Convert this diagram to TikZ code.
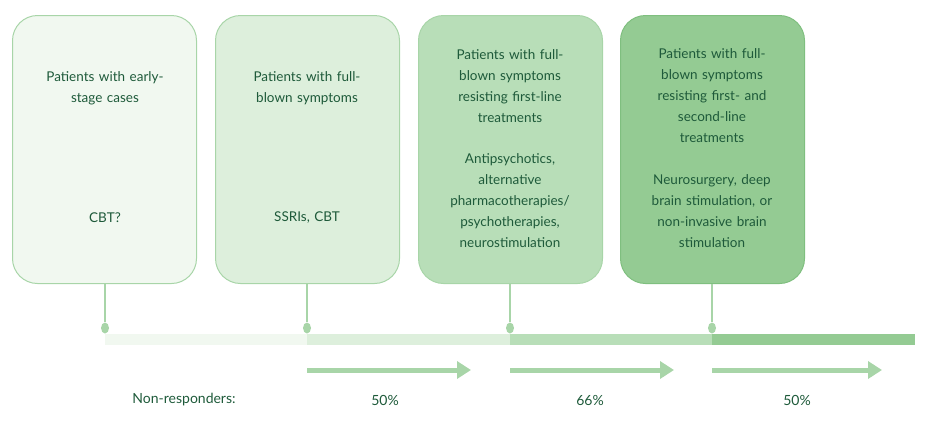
\documentclass[tikz,border=0pt]{standalone}
\usepackage{fontspec}
\setmainfont{Lato}
\usetikzlibrary{shapes.geometric,arrows.meta}
\definecolor{txt}{HTML}{1E5A3A}
\definecolor{fA}{HTML}{F1F8F0}
\definecolor{fB}{HTML}{DDEFDC}
\definecolor{fC}{HTML}{B8DEB8}
\definecolor{fD}{HTML}{94CB93}
\definecolor{ln}{HTML}{A8D5A8}
\definecolor{lnD}{HTML}{7FBF7F}
\begin{document}
\begin{tikzpicture}[x=1pt,y=-1pt,
  card/.style={draw=ln,line width=1pt,rounded corners=25pt,minimum width=184pt,minimum height=268pt,anchor=north west},
  tx/.style={text=txt,font=\fontsize{13.5}{21}\selectfont,align=center,text width=160pt},
  stem/.style={draw=ln,line width=1.2pt},
  dot/.style={ellipse,fill=ln,inner sep=0pt,minimum width=8pt,minimum height=11pt},
  arr/.style={draw=ln,line width=5pt,-{Triangle[length=14pt,width=17pt]}}]
\useasboundingbox (0,0) rectangle (932,424);
\node[card,fill=fA] (b1) at (12,15) {};
\node[card,fill=fB] (b2) at (215,15) {};
\node[card,fill=fC] (b3) at (418,15) {};
\node[card,fill=fD,draw=lnD] (b4) at (620,15) {};
\node[tx] (t1) at (105,88) {Patients with early-\\stage cases};
\node[tx] (r1) at (105,218) {CBT?};
\node[tx] (t2) at (307,88) {Patients with full-\\blown symptoms};
\node[tx] (r2) at (307,218) {SSRIs, CBT};
\node[tx] (t3) at (510,86) {Patients with full-\\blown symptoms\\resisting first-line\\treatments};
\node[tx] (r3) at (510,201) {Antipsychotics,\\alternative\\pharmacotherapies/\\psychotherapies,\\neurostimulation};
\node[tx] (t4) at (712,96) {Patients with full-\\blown symptoms\\resisting first- and\\second-line\\treatments};
\node[tx] (r4) at (712,211) {Neurosurgery, deep\\brain stimulation, or\\non-invasive brain\\stimulation};
\foreach \i/\x in {1/105,2/307,3/510,4/712}{
  \node[dot] (d\i) at (\x,328) {};
  \draw[stem] (b\i.south -| d\i) -- (d\i);
}
\fill[fA] (105,334) rectangle (307,345);
\fill[fB] (307,334) rectangle (510,345);
\fill[fC] (510,334) rectangle (712,345);
\fill[fD] (712,334) rectangle (915,345);
\coordinate (a1s) at (307,370); \coordinate (a1e) at (471,370);
\coordinate (a2s) at (510,370); \coordinate (a2e) at (674,370);
\coordinate (a3s) at (712,370); \coordinate (a3e) at (882,370);
\draw[arr] (a1s) -- (a1e);
\draw[arr] (a2s) -- (a2e);
\draw[arr] (a3s) -- (a3e);
\node[text=txt,font=\fontsize{14}{16}\selectfont] (nr) at (184,400) {Non-responders:};
\node[text=txt,font=\fontsize{14}{16}\selectfont] (p1) at (385,400) {50\%};
\node[text=txt,font=\fontsize{14}{16}\selectfont] (p2) at (590,400) {66\%};
\node[text=txt,font=\fontsize{14}{16}\selectfont] (p3) at (797,400) {50\%};
\end{tikzpicture}
\end{document}
